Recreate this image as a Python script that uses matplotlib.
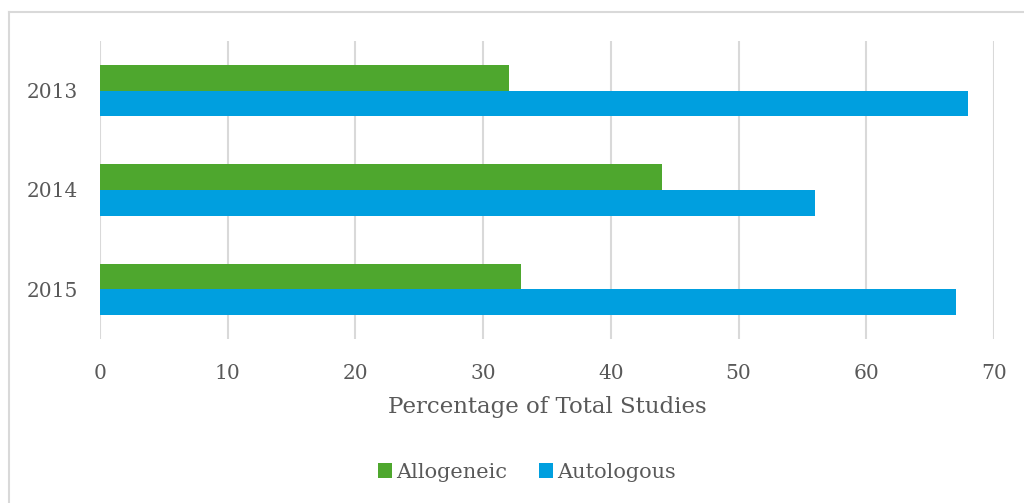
import numpy as np
import matplotlib
matplotlib.use("Agg")
import matplotlib.pyplot as plt
from matplotlib.lines import Line2D

years = ["2013", "2014", "2015"]
allogeneic = [32, 44, 33]
autologous = [68, 56, 67]
x_ticks = [0, 10, 20, 30, 40, 50, 60, 70]

GREEN = "#4ea72e"
BLUE = "#009fdf"
TEXT = "#595959"
GRID = "#d9d9d9"

plt.rcParams["font.family"] = ["DejaVu Serif"]

fig = plt.figure(figsize=(10.24, 5.03), dpi=100)
ax = fig.add_axes([100 / 1024, 1 - 339 / 503, 894 / 1024, 298 / 503])

pos = np.arange(len(years))
h = 0.26
ax.barh(pos - h / 2, allogeneic, height=h, color=GREEN, label="Allogeneic", zorder=3)
ax.barh(pos + h / 2, autologous, height=h, color=BLUE, label="Autologous", zorder=3)

ax.set_xlim(0, 70)
ax.set_ylim(2.5, -0.5)
ax.set_xticks(x_ticks)
ax.set_yticks(pos)
ax.set_yticklabels(years)
ax.tick_params(axis="both", length=0, colors=TEXT, labelsize=14.5)
ax.tick_params(axis="x", pad=18)
ax.tick_params(axis="y", pad=16)
for s in ax.spines.values():
    s.set_visible(False)
ax.grid(axis="x", color=GRID, lw=1.5, zorder=0)
ax.set_xlabel("Percentage of Total Studies", color=TEXT, fontsize=16.5, labelpad=9)

fig.legend(loc="center", bbox_to_anchor=(527 / 1024, 1 - 472 / 503), ncol=2,
           frameon=False, fontsize=15, labelcolor=TEXT, handlelength=0.7,
           handleheight=0.7, handletextpad=0.2, columnspacing=1.5)

# рамка вокруг всей диаграммы
fig.add_artist(Line2D([9 / 1024, 1], [1 - 12 / 503] * 2, transform=fig.transFigure,
                      color=GRID, lw=1.5))
fig.add_artist(Line2D([9 / 1024] * 2, [0, 1 - 12 / 503], transform=fig.transFigure,
                      color=GRID, lw=1.5))

fig.savefig("out.png", dpi=100)
